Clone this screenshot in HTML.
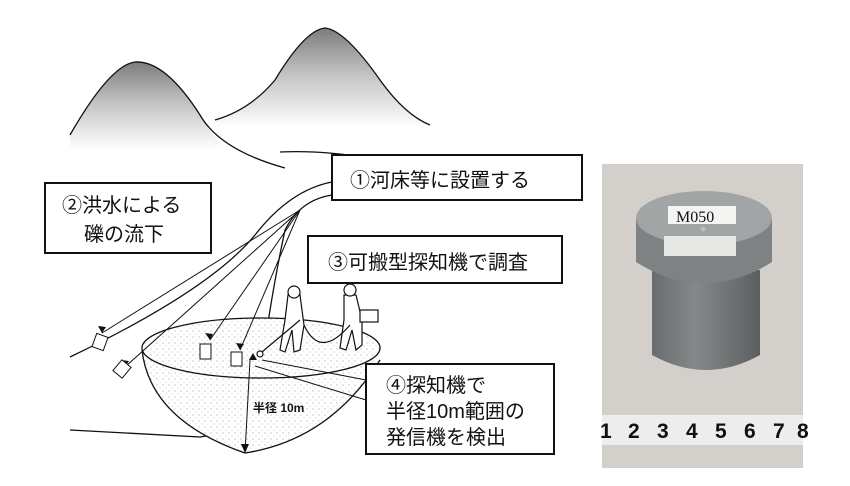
<!DOCTYPE html>
<html><head><meta charset="utf-8"><style>
html,body{margin:0;padding:0;background:#fff;width:850px;height:486px;overflow:hidden}
svg{display:block}
text{font-family:"Liberation Sans","Noto Sans CJK JP",sans-serif;fill:#111}
</style></head><body>
<svg width="850" height="486" viewBox="0 0 850 486" xmlns="http://www.w3.org/2000/svg">
<defs>
<linearGradient id="m1" x1="0" y1="0" x2="0" y2="1">
<stop offset="0" stop-color="#444"/><stop offset="0.4" stop-color="#aaa"/><stop offset="0.85" stop-color="#fff"/></linearGradient>
<pattern id="dots" width="6" height="6" patternUnits="userSpaceOnUse">
<rect width="6" height="6" fill="#fff"/><circle cx="1" cy="1" r="0.6" fill="#aaa"/><circle cx="4" cy="4" r="0.5" fill="#bbb"/></pattern>
<linearGradient id="cyl" x1="0" x2="1"><stop offset="0" stop-color="#6a6d6e"/><stop offset="0.4" stop-color="#858889"/><stop offset="1" stop-color="#5c5f60"/></linearGradient>
</defs>
<path d="M70 135 Q110 65 135 62 Q165 60 200 115 Q220 150 250 165 L70 165Z" fill="url(#m1)" opacity="0.7"/>
<path d="M215 120 Q250 110 275 80 Q305 30 325 28 Q345 30 380 80 Q405 115 430 125 L430 145 L220 145Z" fill="url(#m1)" opacity="0.7"/>
<path d="M70 135 Q110 65 135 62 Q165 60 200 115 Q220 150 285 168" fill="none" stroke="#111" stroke-width="1.3"/>
<path d="M215 120 Q250 110 275 80 Q305 30 325 28 Q345 30 380 80 Q405 115 430 125" fill="none" stroke="#111" stroke-width="1.3"/>
<path d="M280 152 Q320 150 370 158" fill="none" stroke="#111" stroke-width="1.2"/>
<path d="M332 182 Q290 190 255 235 Q210 290 70 357" fill="none" stroke="#111" stroke-width="1.3"/>
<path d="M332 195 Q300 200 285 230 Q270 300 260 380 Q250 430 200 437 L70 430" fill="none" stroke="#111" stroke-width="1.3"/>
<path d="M142 350 Q150 420 245 453 Q330 440 380 360" fill="url(#dots)" stroke="#111" stroke-width="1.3"/>
<ellipse cx="261" cy="348" rx="119" ry="30" fill="url(#dots)" stroke="#111" stroke-width="1.3"/>
<g stroke="#111" stroke-width="1" fill="none">
<line x1="300" y1="210" x2="102" y2="333"/>
<line x1="300" y1="210" x2="125" y2="367"/>
<line x1="300" y1="210" x2="210" y2="340"/>
<line x1="300" y1="210" x2="240" y2="350"/>
<line x1="250" y1="360" x2="245" y2="453"/>
<line x1="255" y1="366" x2="366" y2="400"/>
<line x1="262" y1="360" x2="366" y2="380"/>
</g>
<g fill="#111">
<polygon points="102,333 98,326 106,327"/><polygon points="125,367 121,360 129,361"/>
<polygon points="210,340 205,333 213,334"/><polygon points="240,350 236,343 244,344"/>
<polygon points="245,453 241,444 249,444"/><polygon points="253,353 249,360 257,360"/>
</g>
<g fill="#fff" stroke="#111" stroke-width="1">
<rect x="94" y="335" width="12" height="14" transform="rotate(20 100 342)"/>
<rect x="116" y="362" width="12" height="14" transform="rotate(40 122 369)"/>
<rect x="200" y="344" width="11" height="15"/>
<rect x="231" y="352" width="11" height="14"/>
</g>
<g fill="#fff" stroke="#111" stroke-width="1.2">
<path d="M288 295 L300 295 L304 325 L300 350 L294 352 L292 330 L285 352 L280 350 L285 320 Z"/>
<circle cx="294" cy="292" r="6"/>
<path d="M344 295 L356 295 L362 320 L362 345 L356 350 L352 330 L346 350 L340 348 L344 320 Z"/>
<circle cx="350" cy="290" r="6"/>
<rect x="360" y="310" width="18" height="12"/>
<path d="M300 320 L262 352 M304 325 Q320 360 350 325" fill="none"/>
<circle cx="260" cy="354" r="3"/>
</g>
<g fill="#fff" stroke="#111" stroke-width="2">
<rect x="332" y="155" width="250" height="45"/>
<rect x="45" y="183" width="166" height="70"/>
<rect x="308" y="236" width="254" height="47"/>
<rect x="366" y="364" width="188" height="90"/>
</g>
<text x="350" y="187" font-size="20">①河床等に設置する</text>
<text x="62" y="212" font-size="20">②洪水による</text>
<text x="84" y="241" font-size="20">礫の流下</text>
<text x="328" y="269" font-size="20">③可搬型探知機で調査</text>
<text x="386" y="392" font-size="20">④探知機で</text>
<text x="386" y="418" font-size="20">半径10m範囲の</text>
<text x="386" y="444" font-size="20">発信機を検出</text>
<text x="253" y="412" font-size="12" font-weight="bold">半径 10m</text>
<rect x="602" y="164" width="201" height="304" fill="#d3d0cc"/>
<path d="M652 270 L652 355 Q706 385 760 355 L760 270 Z" fill="url(#cyl)"/>
<path d="M636 218 L636 262 Q704 305 772 262 L772 218 Z" fill="#7f8283"/>
<ellipse cx="704" cy="218" rx="68" ry="27" fill="#a2a5a6"/>
<rect x="668" y="206" width="68" height="18" fill="#f4f4f2"/>
<text x="676" y="222" font-size="16" style="font-family:'Liberation Serif',serif">M050</text>
<rect x="664" y="236" width="72" height="20" fill="#e8e8e6"/>
<circle cx="703" cy="229" r="2.5" fill="#bbb"/>
<rect x="602" y="415" width="201" height="30" fill="#ecedec"/>
<g font-size="21" font-weight="bold">
<text x="600" y="438">1</text><text x="628" y="438">2</text><text x="657" y="438">3</text><text x="686" y="438">4</text><text x="715" y="438">5</text><text x="744" y="438">6</text><text x="773" y="438">7</text><text x="797" y="438">8</text>
</g>
</svg>
</body></html>
